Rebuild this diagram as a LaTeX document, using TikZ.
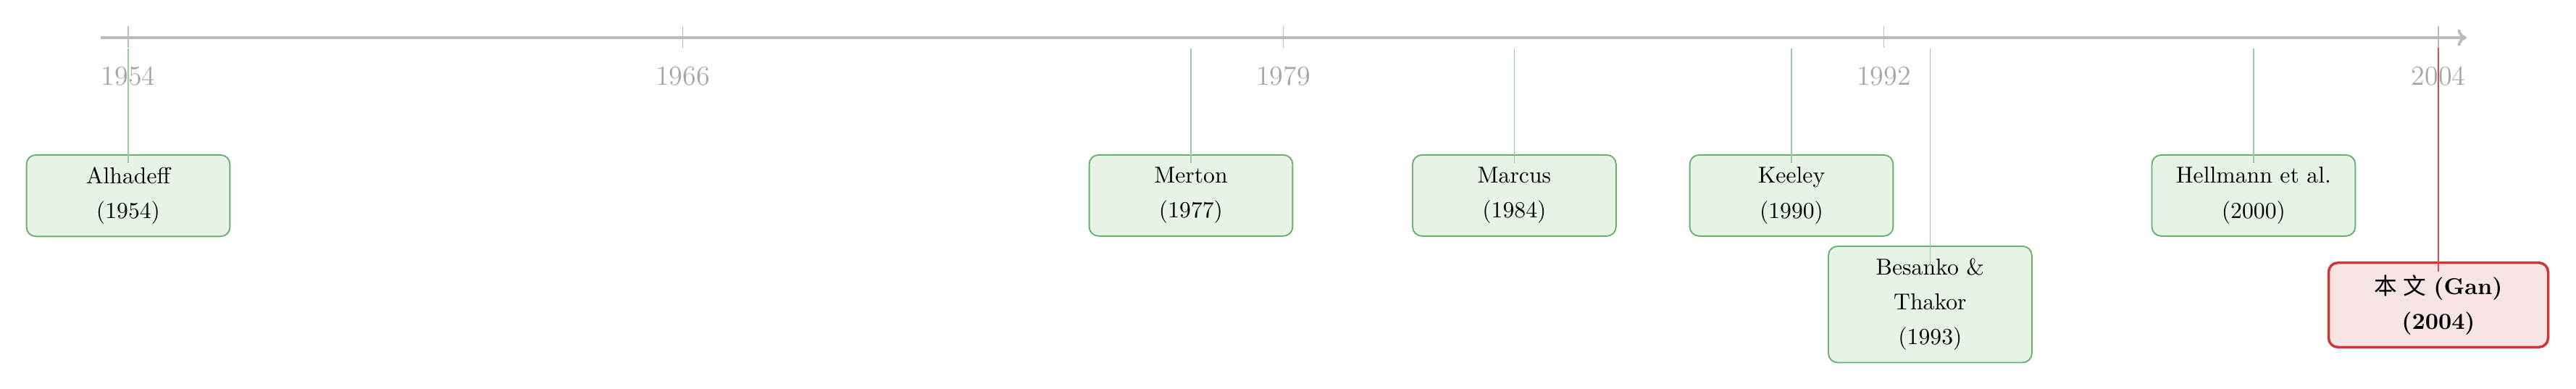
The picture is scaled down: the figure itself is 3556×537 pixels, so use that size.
\documentclass[tikz,border=0pt]{standalone}
\usepackage{fontspec}
\newfontfamily\cjk{Noto Sans CJK SC}
\usetikzlibrary{arrows.meta,calc}
\definecolor{axisgray}{RGB}{187,187,187}
\definecolor{ticklbl}{RGB}{165,165,165}
\definecolor{papgreen}{RGB}{108,176,112}
\definecolor{papfill}{RGB}{232,243,232}
\definecolor{conngreen}{RGB}{150,205,160}
\definecolor{redborder}{RGB}{208,52,52}
\definecolor{redfill}{RGB}{247,228,229}
\definecolor{redconn}{RGB}{215,75,75}
\tikzset{
  axisline/.style={draw=axisgray, line width=1.25pt, -{Computer Modern Rightarrow[length=4pt,width=7.5pt]}},
  tickmark/.style={draw=axisgray, line width=0.55pt},
  yearlbl/.style={text=ticklbl, font=\large, anchor=base, inner sep=0pt},
  paper/.style={draw=papgreen, fill=papfill, line width=0.6pt, rounded corners=4pt,
    align=center, text width=74pt, inner xsep=7.3pt, inner ysep=5.3pt,
    font=\fontsize{10pt}{15.2pt}\selectfont, anchor=north, minimum height=35.3pt},
  ourpaper/.style={paper, draw=redborder, fill=redfill, line width=1.1pt, text width=81pt,
    font=\fontsize{10pt}{15.2pt}\selectfont\bfseries, minimum height=36.3pt},
  conn/.style={draw=conngreen, line width=0.55pt},
  ourconn/.style={draw=redconn, line width=0.65pt}
}
\begin{document}
\begin{tikzpicture}[x=0.3155pt, y=-0.3155pt]
\useasboundingbox (0,0) rectangle (3556,537);
% axis
\coordinate (axL) at (139,52);
\coordinate (axR) at (3405,52);
\draw[axisline] (axL) -- (axR);
% ticks and labels
\foreach \x/\yr in {177/1954, 942.4/1966, 1771.5/1979, 2600.6/1992, 3366/2004}{
  \draw[tickmark] (\x,36) -- (\x,66);
  \node[yearlbl] (y\yr) at (\x,118) {\yr};
}
% papers
\node[paper] (alh) at (177,213) {Alhadeff\\(1954)};
\node[paper] (mer) at (1644,213) {Merton\\(1977)};
\node[paper] (mar) at (2090.4,213) {Marcus\\(1984)};
\node[paper] (kee) at (2473,213) {Keeley\\(1990)};
\node[paper] (bes) at (2664.4,339) {Besanko \&\\Thakor\\(1993)};
\node[paper] (hel) at (3110.9,213) {Hellmann et al.\\(2000)};
\node[ourpaper] (gan) at (3366,361) {{\mdseries\cjk 本}\hspace{2.5pt}{\mdseries\cjk 文} (Gan)\\(2004)};
% connectors
\coordinate (t1) at (177,67);
\coordinate (t2) at (1644,67);
\coordinate (t3) at (2090.4,67);
\coordinate (t4) at (2473,67);
\coordinate (t5) at (2664.4,67);
\coordinate (t6) at (3110.9,67);
\coordinate (t7) at (3366,66);
\draw[conn] (t1) -- ($(alh.north)+(0,12)$);
\draw[conn] (t2) -- ($(mer.north)+(0,12)$);
\draw[conn] (t3) -- ($(mar.north)+(0,12)$);
\draw[conn] (t4) -- ($(kee.north)+(0,12)$);
\draw[conn] (t5) -- ($(bes.north)+(0,28)$);
\draw[conn] (t6) -- ($(hel.north)+(0,12)$);
\draw[ourconn] (t7) -- ($(gan.north)+(0,14)$);
\end{tikzpicture}
\end{document}
